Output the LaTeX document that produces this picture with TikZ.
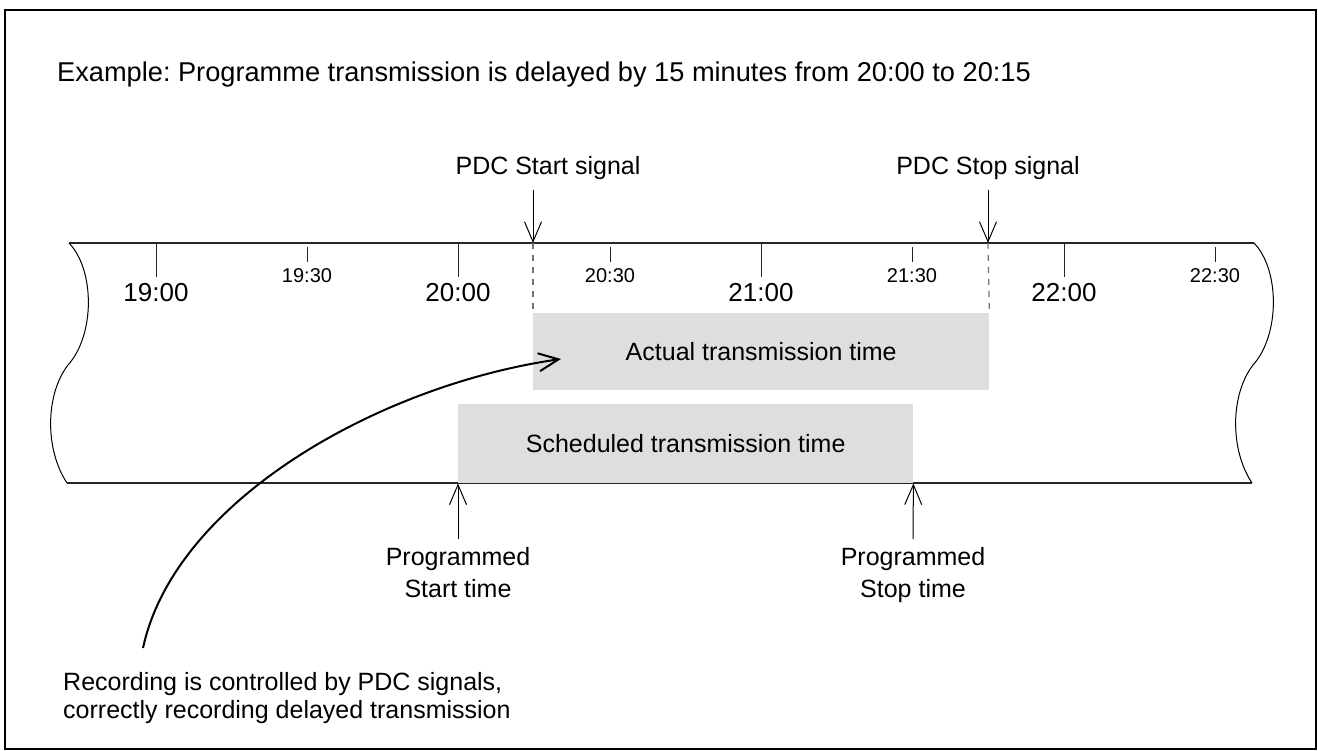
\documentclass[tikz,border=0pt]{standalone}
\usepackage{fontspec}
\setmainfont{Liberation Sans}
\usetikzlibrary{arrows.meta}
\frenchspacing
\begin{document}
\begin{tikzpicture}[x=1pt,y=-1pt,
  axisline/.style={line width=1.1pt, draw=black!85},
  majtick/.style={line width=1pt, draw=black!85},
  mintick/.style={line width=1pt, draw=black!85},
  majlabel/.style={inner sep=0pt, anchor=base, font=\fontsize{26}{30}\selectfont},
  minlabel/.style={inner sep=0pt, anchor=base, font=\fontsize{20}{24}\selectfont},
  txt/.style={inner sep=0pt, font=\fontsize{25}{30}\selectfont},
  tbox/.style={fill=black!13, draw=none, inner sep=0pt, anchor=north west, font=\fontsize{25}{30}\selectfont},
  sigarrow/.style={line width=1pt, -{Straight Barb[length=20pt,width=17pt,line width=1pt]}},
  guide/.style={draw=black!55, line width=1.2pt, dash pattern=on 6pt off 6pt},
  recarrow/.style={line width=2pt, -{Straight Barb[length=20pt,width=18pt,line width=2pt]}}
]
\useasboundingbox (0,0) rectangle (1318,751);
\draw[line width=1.5pt] (5,10) rectangle (1316,749);

% title
\node[txt, anchor=base west, font=\fontsize{27.2}{30}\selectfont] (title) at (57,82)
  {Example: Programme transmission is delayed by 15 minutes from 20:00 to 20:15};

% band edges
\draw[axisline] (69,243) -- (1254,243);
\draw[axisline] (67,483) -- (1252,483);
\draw[line width=1pt] (69,243) .. controls (95,270) and (95,335) .. (68,365)
   .. controls (45,395) and (45,450) .. (67,483);
\draw[line width=1pt] (1254,243) .. controls (1280,270) and (1280,335) .. (1253,365)
   .. controls (1230,395) and (1230,450) .. (1252,483);

% boxes
\node[tbox, minimum width=456pt, minimum height=77pt] (actual) at (533,313) {};
\node at (actual.center) [txt] (actuallbl) {Actual transmission time};
\node[tbox, minimum width=455pt, minimum height=79pt] (sched) at (458,404) {};
\node at (sched.center) [txt] (schedlbl) {Scheduled transmission time};

% ticks and labels
\foreach \x/\t in {156/19:00, 458/20:00, 761/21:00, 1064/22:00} {
  \draw[majtick] (\x,243) -- (\x,277);
  \node[majlabel] at (\x,302) {\t};
}
\foreach \x/\t in {307/19:30, 610/20:30, 912/21:30, 1215/22:30} {
  \draw[mintick] (\x,247) -- (\x,262);
  \node[minlabel] at (\x,283) {\t};
}

% PDC signals
\node[txt, anchor=base] (startsig) at (548,175) {PDC Start signal};
\node[txt, anchor=base] (stopsig) at (988,175) {PDC Stop signal};
\coordinate (startpt) at (533,243);
\coordinate (stoppt) at (988,243);
\coordinate (startsigtop) at (533,190);
\coordinate (stopsigtop) at (988,190);
\draw[sigarrow] (startsigtop) -- (startpt);
\draw[sigarrow] (stopsigtop) -- (stoppt);
\draw[guide] (startpt) -- (actual.north west);
\draw[guide] (stoppt) -- (actual.north east);

% programmed times
\node[txt, anchor=base, align=center, font=\fontsize{25}{32}\selectfont] (progstart) at (458,597)
  {Programmed\\Start time};
\node[txt, anchor=base, align=center, font=\fontsize{25}{32}\selectfont] (progstop) at (913,597)
  {Programmed\\Stop time};
\coordinate (pstartbot) at (458,539);
\coordinate (pstopbot) at (913,539);
\draw[sigarrow] (pstartbot) -- (sched.south west);
\draw[sigarrow] (pstopbot) -- (sched.south east);

% recording note
\node[txt, anchor=base west, align=left, font=\fontsize{25}{28}\selectfont] (note) at (63,718)
  {Recording is controlled by PDC signals,\\correctly recording delayed transmission};
\coordinate (recstart) at (143,648);
\coordinate (recend) at (561,359);
\draw[recarrow] (recstart) .. controls (175,500) and (380,385) .. (recend);
\end{tikzpicture}
\end{document}
